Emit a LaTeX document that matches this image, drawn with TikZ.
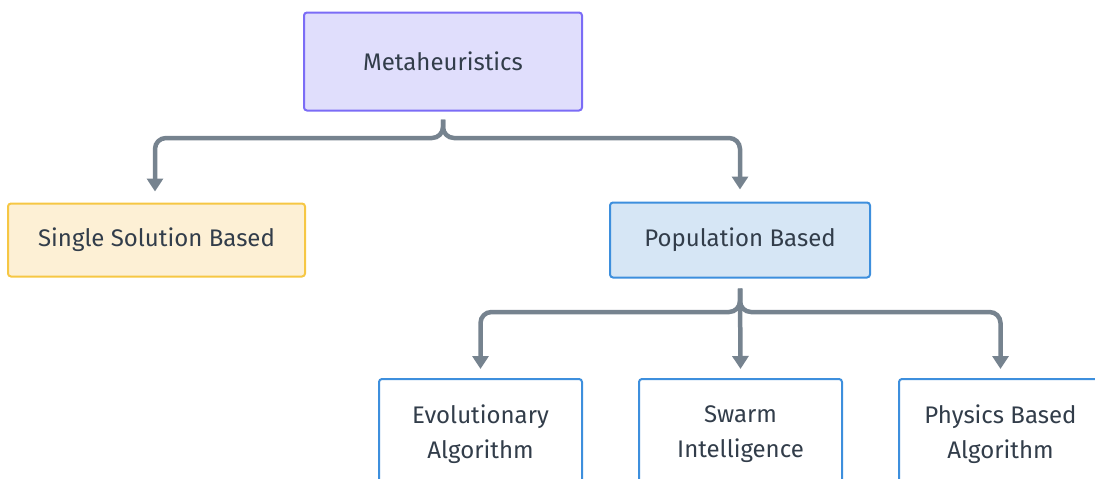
\documentclass[tikz,border=0pt]{standalone}
\usepackage{fontspec}
\setmainfont{Fira Sans}
\usetikzlibrary{arrows.meta}
\definecolor{txt}{HTML}{323D4A}
\definecolor{wire}{HTML}{76838F}
\definecolor{metafill}{HTML}{E0DEFC}
\definecolor{metaline}{HTML}{7B6CF6}
\definecolor{singlefill}{HTML}{FDF0D5}
\definecolor{singleline}{HTML}{F6C744}
\definecolor{popfill}{HTML}{D6E6F5}
\definecolor{blueline}{HTML}{3D8FDD}
\tikzset{
  x=1pt, y=-1pt,
  box/.style={draw, line width=2pt, rounded corners=3pt, inner sep=0pt,
    text=txt, font=\fontsize{24}{35}\selectfont, align=center},
  metabox/.style={box, fill=metafill, draw=metaline},
  singlebox/.style={box, fill=singlefill, draw=singleline},
  popbox/.style={box, fill=popfill, draw=blueline},
  leafbox/.style={box, fill=white, draw=blueline,
    minimum width=203pt, minimum height=111pt},
  conn/.style={draw=wire, line width=4.5pt, rounded corners=11pt,
    -{Triangle[width=16pt,length=13pt]}},
}
\begin{document}
\begin{tikzpicture}
\useasboundingbox (0,0) rectangle (1095,479);
\clip (0,0) rectangle (1095,479);

% boxes
\node[metabox, minimum width=278pt, minimum height=98pt] (meta) at (443,61.5) {Metaheuristics};
\node[singlebox, minimum width=297pt, minimum height=73pt] (single) at (156.5,240) {Single Solution Based};
\node[popbox, minimum width=260pt, minimum height=75pt] (pop) at (740,240) {Population Based};
\node[leafbox] (evo) at (480.5,434.5) {Evolutionary\\Algorithm};
\node[leafbox] (swarm) at (740.5,434.5) {Swarm\\Intelligence};
\node[leafbox] (phys) at (1000.5,434.5) {Physics Based\\Algorithm};

% first level branches
\draw[conn] ([yshift=-8pt]meta.south) |- (300,138) -| ([yshift=11pt]single.north -| 155,0);
\draw[conn] ([yshift=-8pt]meta.south) |- (600,138) -| ([yshift=12pt]pop.north);

% second level branches
\draw[conn] ([yshift=-10pt]pop.south) |- (600,312) -| ([yshift=9pt]evo.north);
\draw[conn] ([yshift=-10pt]pop.south) -- ([yshift=9pt]swarm.north);
\draw[conn] ([yshift=-10pt]pop.south) |- (900,312) -| ([yshift=9pt]phys.north);
\end{tikzpicture}
\end{document}
